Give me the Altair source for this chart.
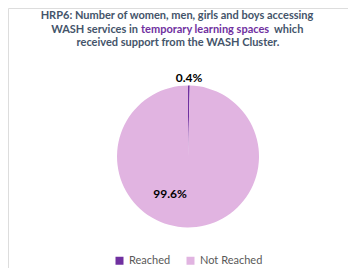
import altair as alt
import pandas as pd

categories = ["Reached", "Not Reached"]
values = [0.4, 99.6]
labels = ["0.4%", "99.6%"]
colors = ["#7030A0", "#E1B4E1"]

title_line1 = "HRP6: Number of women, men, girls and boys accessing"
title_line2 = ["WASH services in ", "temporary learning spaces", " which"]
title_line3 = "received support from the WASH Cluster."

df = pd.DataFrame({"category": categories, "value": values, "label": labels,
                   "order": list(range(len(categories)))})

FONT = "Lato"
CX, CY, R = 180, 148.5, 71

base = alt.Chart(df)

pie = base.mark_arc(radius=R, stroke=None).encode(
    theta=alt.Theta("value:Q", stack=True),
    order=alt.Order("order:Q"),
    color=alt.Color("category:N", scale=alt.Scale(domain=categories, range=colors),
                    legend=alt.Legend(title=None, orient="none", direction="horizontal",
                                      legendX=106, legendY=247, symbolType="square",
                                      symbolSize=64, labelFont=FONT, labelFontSize=11,
                                      labelColor="#595959", columnPadding=14,
                                      symbolStrokeWidth=0)),
    x=alt.value(CX), y=alt.value(CY),
)

lab_small = base.transform_calculate(
    t="datum.category === 'Reached' ? datum.label : ''"
).mark_text(radius=79, font=FONT, fontSize=12, fontWeight="bold", color="#000000").encode(
    theta=alt.Theta("value:Q", stack=True),
    order=alt.Order("order:Q"),
    text="t:N",
    x=alt.value(CX), y=alt.value(CY),
)

lab_big = base.transform_calculate(
    t="datum.category === 'Not Reached' ? datum.label : ''"
).mark_text(radius=42, thetaOffset=0.43, font=FONT, fontSize=12, fontWeight="bold",
            color="#000000").encode(
    theta=alt.Theta("value:Q", stack=True),
    order=alt.Order("order:Q"),
    text="t:N",
    x=alt.value(CX), y=alt.value(CY),
)

tdf = pd.DataFrame({"a": [0]})
tcol = "#44546A"
t1 = alt.Chart(tdf).mark_text(font=FONT, fontSize=11, fontWeight="bold", color=tcol,
                              align="center", baseline="middle").encode(
    x=alt.value(169), y=alt.value(8), text=alt.value(title_line1))
t2a = alt.Chart(tdf).mark_text(font=FONT, fontSize=11, fontWeight="bold", color=tcol,
                               align="right", baseline="middle").encode(
    x=alt.value(130), y=alt.value(22), text=alt.value(title_line2[0].rstrip()))
t2b = alt.Chart(tdf).mark_text(font=FONT, fontSize=11, fontWeight="bold", color="#7030A0",
                               align="left", baseline="middle").encode(
    x=alt.value(133), y=alt.value(22), text=alt.value(title_line2[1]))
t2c = alt.Chart(tdf).mark_text(font=FONT, fontSize=11, fontWeight="bold", color=tcol,
                               align="left", baseline="middle").encode(
    x=alt.value(266), y=alt.value(22), text=alt.value(title_line2[2].strip()))
t3 = alt.Chart(tdf).mark_text(font=FONT, fontSize=11, fontWeight="bold", color=tcol,
                              align="center", baseline="middle").encode(
    x=alt.value(170), y=alt.value(35), text=alt.value(title_line3))

chart = alt.layer(pie, lab_small, lab_big, t1, t2a, t2b, t2c, t3).properties(
    width=340, height=260, padding=0, autosize=alt.AutoSizeParams(type="none")
).configure_view(stroke=None).configure(background="white")

chart.save("out.html", embed_options={"renderer": "svg", "actions": False})
